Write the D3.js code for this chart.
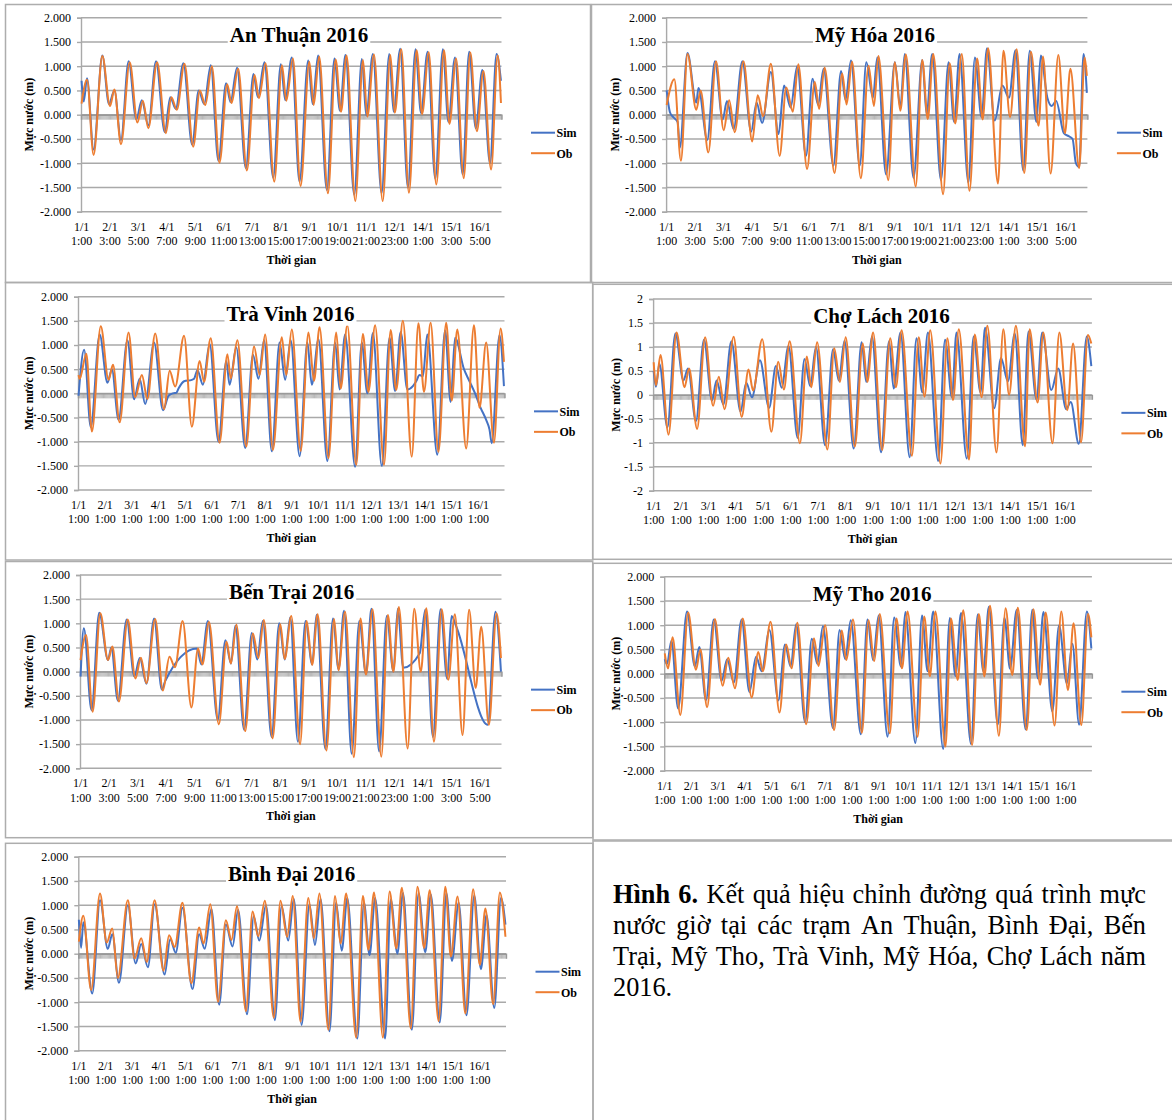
<!DOCTYPE html>
<html><head><meta charset="utf-8">
<script src="https://cdn.jsdelivr.net/npm/d3@7"></script>
<style>body{margin:0;background:#fff}svg{display:block}text{font-family:"Liberation Serif","Times New Roman",serif;fill:#000}</style>
</head><body><svg id="c" width="1172" height="1120"></svg>
<script>
// ---------- DATA (turning points: [hour index, water level m]) ----------
const nHours = 384;
const yTicks = [-2, -1.5, -1, -0.5, 0, 0.5, 1, 1.5, 2];
const labelsA = ["1/1 1:00","2/1 3:00","3/1 5:00","4/1 7:00","5/1 9:00","6/1 11:00","7/1 13:00","8/1 15:00","9/1 17:00","10/1 19:00","11/1 21:00","12/1 23:00","14/1 1:00","15/1 3:00","16/1 5:00"];
const labelsB = ["1/1 1:00","2/1 1:00","3/1 1:00","4/1 1:00","5/1 1:00","6/1 1:00","7/1 1:00","8/1 1:00","9/1 1:00","10/1 1:00","11/1 1:00","12/1 1:00","13/1 1:00","14/1 1:00","15/1 1:00","16/1 1:00"];

const anThuanOb = [[0,0.23],[5,0.72],[11,-0.83],[19,1.21],[26,0.18],[30,0.52],[36,-0.61],[44,1.08],[51,-0.16],[56,0.29],[61,-0.28],[69,1.08],[77,-0.38],[82,0.36],[87,0.1],[94,1.05],[102,-0.66],[108,0.5],[113,0.2],[119,1.0],[126,-0.99],[133,0.63],[137,0.24],[143,0.95],[151,-1.15],[158,0.82],[162,0.34],[168,1.06],[176,-1.38],[183,1.02],[187,0.29],[193,1.16],[200,-1.47],[208,1.09],[212,0.2],[217,1.2],[225,-1.62],[232,1.14],[237,0.06],[242,1.22],[250,-1.78],[257,1.13],[261,-0.04],[267,1.24],[275,-1.78],[282,1.23],[286,0.04],[292,1.35],[299,-1.61],[306,1.33],[311,0.01],[317,1.29],[324,-1.44],[331,1.33],[336,-0.19],[342,1.16],[349,-1.31],[355,1.28],[361,-0.34],[367,0.9],[374,-1.13],[380,1.22],[383,0.24]];
const anThuanSim = [[0,0.7],[2,0.27],[5,0.75],[11,-0.72],[19,1.22],[25,0.22],[30,0.5],[36,-0.52],[43,1.1],[50,-0.1],[55,0.3],[61,-0.22],[68,1.1],[76,-0.36],[81,0.36],[86,0.12],[93,1.06],[101,-0.62],[107,0.5],[112,0.22],[118,1.02],[125,-0.95],[132,0.65],[136,0.26],[142,0.97],[150,-1.1],[157,0.84],[161,0.36],[167,1.08],[175,-1.3],[182,1.04],[186,0.3],[192,1.18],[199,-1.38],[207,1.12],[211,0.22],[216,1.22],[224,-1.55],[231,1.16],[236,0.08],[241,1.23],[249,-1.65],[256,1.15],[260,-0.02],[266,1.25],[274,-1.62],[281,1.25],[285,0.06],[291,1.36],[298,-1.5],[305,1.35],[310,0.03],[316,1.3],[323,-1.32],[330,1.35],[335,-0.15],[341,1.18],[348,-1.23],[354,1.3],[360,-0.28],[366,0.92],[373,-1.0],[379,1.25],[383,0.7]];

const myHoaOb = [[0,0.2],[7,0.73],[13,-0.95],[19,1.25],[27,0.1],[31,0.5],[38,-0.78],[45,1.1],[52,-0.32],[57,0.3],[62,-0.36],[70,1.1],[78,-0.55],[83,0.4],[88,-0.03],[95,1.05],[103,-0.85],[109,0.56],[115,0.06],[120,1.04],[128,-1.12],[135,0.68],[139,0.12],[144,0.97],[153,-1.2],[160,0.85],[164,0.21],[169,1.09],[177,-1.31],[184,1.01],[189,0.18],[193,1.21],[202,-1.35],[208,1.08],[213,0.08],[218,1.24],[227,-1.48],[233,1.13],[238,-0.09],[243,1.25],[252,-1.64],[258,1.06],[263,-0.18],[269,1.25],[276,-1.57],[283,1.16],[288,-0.1],[293,1.37],[302,-1.42],[307,1.32],[313,-0.05],[319,1.35],[326,-1.2],[332,1.3],[339,-0.23],[343,1.2],[350,-1.21],[357,1.23],[363,-0.38],[368,0.95],[376,-1.1],[381,1.18],[383,0.8]];
const myHoaSim = [[0,0.5],[3,0.05],[6,-0.05],[10,-0.15],[12,-0.68],[19,1.27],[27,0.25],[29,0.55],[37,-0.52],[44,1.1],[51,-0.1],[55,0.28],[61,-0.3],[69,1.1],[77,-0.35],[82,0.25],[87,-0.17],[95,0.88],[102,-0.4],[107,0.6],[113,0.15],[119,1.0],[127,-0.85],[133,0.74],[138,0.2],[143,0.95],[152,-1.05],[159,0.9],[163,0.3],[168,1.12],[176,-1.05],[182,1.08],[188,0.35],[192,1.18],[200,-1.23],[208,1.08],[213,0.15],[217,1.25],[225,-1.3],[233,1.13],[237,0.0],[242,1.25],[250,-1.35],[257,1.08],[262,-0.15],[267,1.25],[275,-1.4],[281,1.18],[287,-0.05],[292,1.37],[299,-0.12],[306,0.6],[312,0.35],[318,1.33],[325,-1.15],[331,1.32],[337,-0.15],[341,1.22],[347,0.35],[351,0.18],[355,0.28],[362,-0.38],[367,-0.45],[370,-0.5],[373,-1.0],[376,-1.08],[380,1.25],[383,0.45]];

const traVinhOb = [[0,0.38],[1,0.3],[7,0.82],[12,-0.79],[20,1.39],[27,0.28],[31,0.59],[37,-0.6],[45,1.26],[51,-0.08],[57,0.38],[62,-0.12],[69,1.24],[77,-0.33],[82,0.47],[87,0.14],[95,1.19],[102,-0.69],[109,0.67],[113,0.24],[119,1.14],[127,-1.02],[134,0.81],[137,0.31],[143,1.1],[151,-1.1],[158,0.97],[163,0.38],[168,1.22],[175,-1.17],[183,1.16],[187,0.38],[192,1.32],[200,-1.19],[207,1.26],[212,0.26],[217,1.37],[225,-1.34],[232,1.26],[236,0.1],[242,1.41],[250,-1.48],[256,1.23],[261,0.03],[267,1.41],[275,-1.48],[281,1.31],[286,0.07],[292,1.5],[300,-1.31],[306,1.45],[311,0.03],[317,1.46],[324,-1.21],[331,1.46],[336,-0.15],[341,1.32],[349,-1.14],[356,1.41],[361,-0.3],[367,1.05],[374,-1.02],[380,1.34],[383,0.65]];
const traVinhSim = [[0,-0.05],[5,0.9],[11,-0.7],[19,1.22],[26,0.22],[30,0.5],[36,-0.55],[44,1.1],[50,-0.12],[55,0.3],[60,-0.22],[68,1.05],[76,-0.35],[81,-0.05],[85,0.0],[88,0.01],[90,0.1],[95,0.25],[102,0.28],[104,0.3],[107,0.48],[112,0.18],[118,1.02],[126,-1.0],[133,0.67],[136,0.18],[142,0.95],[150,-1.13],[157,0.8],[162,0.3],[167,1.1],[174,-1.2],[181,1.05],[186,0.28],[191,1.1],[199,-1.3],[206,1.05],[210,0.18],[216,1.12],[224,-1.4],[231,1.05],[235,0.08],[240,1.22],[249,-1.52],[255,1.05],[260,0.0],[265,1.25],[273,-1.5],[280,1.15],[285,0.05],[290,1.27],[296,0.08],[301,0.15],[304,0.25],[307,0.38],[310,0.35],[314,1.22],[323,-1.27],[330,1.3],[335,-0.18],[339,1.15],[347,0.5],[352,0.25],[357,0.0],[362,-0.3],[367,-0.55],[370,-0.75],[372,-1.03],[379,1.2],[383,0.15]];

const choLachOb = [[0,0.68],[2,0.2],[6,0.83],[13,-0.83],[20,1.3],[27,0.16],[31,0.55],[38,-0.71],[45,1.2],[52,-0.23],[57,0.38],[62,-0.3],[70,1.21],[77,-0.46],[83,0.53],[87,0.09],[95,1.16],[103,-0.77],[109,0.69],[114,0.11],[119,1.12],[128,-1.01],[134,0.8],[138,0.16],[143,1.1],[152,-1.14],[158,0.97],[163,0.27],[168,1.2],[176,-1.08],[183,1.07],[187,0.27],[192,1.3],[200,-1.15],[207,1.18],[212,0.16],[217,1.35],[226,-1.27],[232,1.2],[237,-0.04],[242,1.35],[251,-1.43],[257,1.18],[262,-0.11],[267,1.37],[276,-1.35],[281,1.26],[287,-0.05],[292,1.44],[300,-1.2],[306,1.37],[311,0.0],[317,1.44],[325,-1.07],[329,1.37],[336,-0.16],[341,1.3],[349,-1.01],[355,1.3],[362,-0.32],[367,1.07],[374,-0.99],[380,1.25],[383,1.07]];
const choLachSim = [[0,0.5],[2,0.17],[5,0.65],[12,-0.68],[19,1.28],[26,0.3],[30,0.55],[37,-0.55],[44,1.15],[51,-0.12],[55,0.3],[61,-0.2],[68,1.12],[76,-0.35],[81,0.25],[86,-0.05],[93,0.72],[101,-0.27],[107,0.6],[112,0.15],[118,1.02],[126,-0.9],[132,0.75],[137,0.18],[142,1.0],[150,-1.05],[157,0.95],[162,0.3],[167,1.13],[175,-1.12],[182,1.1],[186,0.27],[191,1.22],[199,-1.2],[206,1.12],[210,0.13],[216,1.3],[224,-1.3],[230,1.18],[235,0.05],[240,1.3],[249,-1.38],[255,1.15],[261,-0.05],[265,1.3],[274,-1.33],[280,1.22],[286,0.05],[290,1.4],[298,-0.28],[304,0.77],[310,0.28],[316,1.28],[323,-1.05],[328,1.32],[335,-0.1],[340,1.3],[348,0.1],[354,0.55],[361,-0.3],[365,-0.15],[372,-1.02],[379,1.22],[383,0.6]];

const benTraiOb = [[0,0.24],[5,0.76],[11,-0.83],[18,1.21],[25,0.24],[29,0.52],[35,-0.62],[43,1.08],[50,-0.14],[55,0.29],[60,-0.24],[68,1.09],[75,-0.39],[81,0.31],[86,0.09],[93,1.05],[101,-0.74],[107,0.48],[111,0.15],[117,1.03],[126,-1.09],[133,0.62],[137,0.17],[142,0.97],[150,-1.23],[157,0.79],[162,0.28],[167,1.07],[175,-1.38],[182,0.98],[186,0.26],[192,1.15],[200,-1.5],[206,1.05],[211,0.14],[216,1.19],[224,-1.63],[231,1.09],[235,0.03],[241,1.24],[249,-1.77],[255,1.1],[260,-0.06],[266,1.29],[274,-1.76],[280,1.17],[285,0.0],[290,1.34],[298,-1.59],[304,1.3],[310,0.0],[315,1.31],[322,-1.45],[329,1.29],[335,-0.17],[341,1.19],[348,-1.31],[354,1.28],[360,-0.34],[365,0.93],[372,-1.1],[379,1.21],[383,0.28]];
const benTraiSim = [[0,-0.1],[3,0.9],[10,-0.8],[17,1.22],[25,0.24],[28,0.5],[34,-0.6],[42,1.08],[49,-0.1],[54,0.28],[60,-0.25],[67,1.1],[74,-0.37],[77,-0.2],[106,0.48],[110,0.15],[116,1.05],[125,-1.0],[132,0.65],[137,0.17],[141,0.95],[149,-1.2],[156,0.8],[161,0.25],[166,1.05],[174,-1.35],[181,1.0],[186,0.25],[191,1.12],[198,-1.45],[205,1.05],[211,0.15],[215,1.18],[223,-1.6],[230,1.1],[235,0.05],[240,1.26],[247,-1.7],[254,1.05],[260,-0.05],[265,1.3],[272,-1.65],[279,1.15],[285,0.0],[289,1.3],[294,0.08],[309,0.38],[314,1.28],[321,-1.35],[328,1.29],[334,-0.15],[338,1.15],[342,0.95],[371,-1.1],[378,1.24],[383,0.0]];

const myThoOb = [[0,0.42],[3,0.11],[7,0.75],[14,-0.85],[21,1.26],[28,0.08],[32,0.5],[38,-0.69],[45,1.13],[52,-0.25],[57,0.33],[63,-0.3],[70,1.14],[78,-0.49],[84,0.45],[88,0.05],[95,1.07],[103,-0.8],[109,0.6],[114,0.11],[119,1.05],[127,-1.04],[134,0.73],[138,0.16],[144,1.0],[152,-1.16],[159,0.89],[163,0.28],[169,1.12],[177,-1.22],[183,1.1],[188,0.26],[193,1.23],[202,-1.23],[208,1.14],[213,0.11],[218,1.28],[227,-1.3],[233,1.18],[238,-0.05],[243,1.28],[252,-1.5],[257,1.14],[263,-0.13],[268,1.31],[276,-1.47],[282,1.23],[287,-0.06],[292,1.4],[300,-1.28],[306,1.35],[312,-0.03],[317,1.36],[325,-1.16],[331,1.33],[337,-0.23],[342,1.26],[350,-1.07],[356,1.28],[362,-0.34],[367,1.04],[374,-1.06],[380,1.23],[383,0.75]];
const myThoSim = [[0,0.3],[2,0.2],[6,0.68],[12,-0.72],[20,1.28],[27,0.15],[31,0.55],[37,-0.55],[44,1.12],[51,-0.15],[56,0.3],[62,-0.18],[69,1.12],[76,-0.38],[82,0.35],[87,0.05],[94,0.9],[102,-0.55],[108,0.6],[113,0.15],[118,1.02],[126,-1.0],[132,0.72],[137,0.2],[142,0.98],[151,-1.12],[157,0.9],[162,0.3],[167,1.1],[176,-1.25],[182,1.12],[187,0.28],[192,1.2],[200,-1.3],[206,1.16],[212,0.15],[216,1.27],[225,-1.43],[231,1.2],[236,0.05],[241,1.28],[250,-1.55],[256,1.15],[261,-0.05],[266,1.25],[275,-1.45],[281,1.22],[286,0.05],[291,1.38],[299,-1.05],[305,1.15],[310,0.1],[316,1.32],[324,-1.15],[330,1.32],[335,-0.1],[340,1.27],[348,-0.78],[354,1.0],[361,-0.2],[366,0.62],[372,-1.05],[379,1.28],[383,0.52]];

const binhDaiOb = [[0,0.25],[4,0.78],[11,-0.75],[19,1.24],[25,0.23],[30,0.52],[35,-0.5],[44,1.1],[50,-0.1],[56,0.32],[61,-0.17],[68,1.1],[76,-0.35],[81,0.38],[86,0.14],[93,1.05],[101,-0.61],[108,0.54],[112,0.21],[118,1.02],[125,-0.99],[132,0.69],[137,0.28],[142,0.98],[150,-1.18],[156,0.87],[161,0.36],[167,1.09],[175,-1.32],[181,1.09],[187,0.35],[192,1.19],[199,-1.4],[206,1.15],[211,0.32],[216,1.24],[224,-1.57],[230,1.19],[235,0.21],[240,1.24],[249,-1.73],[255,1.19],[260,0.08],[265,1.26],[273,-1.73],[279,1.28],[285,0.11],[290,1.36],[298,-1.54],[304,1.38],[310,0.12],[315,1.31],[323,-1.39],[329,1.38],[334,-0.06],[340,1.18],[347,-1.23],[354,1.33],[360,-0.23],[365,0.93],[372,-1.04],[378,1.26],[383,0.35]];
const binhDaiSim = [[0,0.7],[2,0.12],[4,0.65],[12,-0.82],[19,1.1],[26,0.1],[30,0.4],[36,-0.6],[44,1.0],[51,-0.2],[56,0.2],[62,-0.28],[68,1.02],[77,-0.43],[82,0.3],[87,0.02],[93,0.95],[102,-0.73],[108,0.4],[113,0.1],[119,0.92],[126,-1.05],[132,0.6],[138,0.15],[143,0.9],[151,-1.25],[157,0.77],[162,0.27],[168,1.0],[176,-1.37],[182,0.98],[188,0.27],[193,1.13],[200,-1.47],[207,1.02],[212,0.18],[217,1.13],[225,-1.6],[231,1.05],[236,0.06],[241,1.15],[250,-1.75],[256,1.05],[261,-0.03],[266,1.15],[275,-1.75],[280,1.12],[286,0.0],[291,1.25],[299,-1.57],[305,1.25],[311,0.03],[316,1.22],[324,-1.42],[330,1.25],[335,-0.15],[341,1.05],[348,-1.27],[355,1.2],[361,-0.32],[366,0.8],[373,-1.12],[379,1.15],[383,0.6]];

const captionLines = [
  [{t:"Hình",b:true},{t:"6.",b:true},"Kết","quả","hiệu","chỉnh","đường","quá","trình","mực"],
  ["nước","giờ","tại","các","trạm","An","Thuận,","Bình","Đại,","Bến"],
  ["Trại,","Mỹ","Tho,","Trà","Vinh,","Mỹ","Hóa,","Chợ","Lách","năm"],
  ["2016."]
];

// ---------- LAYOUT ----------
const fmt3 = d => d.toFixed(3);
const fmtPlain = d => String(d);
const panels = [
  {title:"An Thuận 2016", sim:anThuanSim, ob:anThuanOb, labels:labelsA, step:26, fmt:fmt3, L:81, R:501.5, T:17.7, B:211.7, box:[5.5,4.5,590.5,282.5], tx:299},
  {title:"Mỹ Hóa 2016", sim:myHoaSim, ob:myHoaOb, labels:labelsA, step:26, fmt:fmt3, L:666.1, R:1087.4, T:17.7, B:211.7, box:[591.5,4.5,1185,282.5], tx:875},
  {title:"Trà Vinh 2016", sim:traVinhSim, ob:traVinhOb, labels:labelsB, step:24, fmt:fmt3, L:78, R:504.5, T:296.7, B:490, box:[5.5,282.5,592.7,560], tx:290.5},
  {title:"Chợ Lách 2016", sim:choLachSim, ob:choLachOb, labels:labelsB, step:24, fmt:fmtPlain, L:653.1, R:1091.9, T:299, B:490.7, box:[592.7,284.3,1185,559.3], tx:881.4},
  {title:"Bến Trại 2016", sim:benTraiSim, ob:benTraiOb, labels:labelsA, step:26, fmt:fmt3, L:80, R:501.5, T:575, B:768.3, box:[5.5,561.5,592.7,837.7], tx:291.6},
  {title:"Mỹ Tho 2016", sim:myThoSim, ob:myThoOb, labels:labelsB, step:24, fmt:fmt3, L:664.2, R:1091.9, T:576.7, B:770.7, box:[593,563.3,1185,840], tx:872.1},
  {title:"Bình Đại 2016", sim:binhDaiSim, ob:binhDaiOb, labels:labelsB, step:24, fmt:fmt3, L:78.3, R:506, T:856.7, B:1050.7, box:[5.5,843.3,593,1130], tx:291.6}
];
const simColor = "#4472C4", obColor = "#ED7D31", gridColor = "#A9A9A9", boxColor = "#ADADAD";

const svg = d3.select("#c");

// caption box
svg.append("rect").attr("x",593).attr("y",841).attr("width",600).attr("height",300)
  .attr("fill","none").attr("stroke",boxColor).attr("stroke-width",1.5);

panels.forEach(p => {
  const g = svg.append("g");
  const [bx0,by0,bx1,by1] = p.box;
  g.append("rect").attr("x",bx0).attr("y",by0).attr("width",bx1-bx0).attr("height",by1-by0)
    .attr("fill","none").attr("stroke",boxColor).attr("stroke-width",1.5);

  const x = d3.scaleLinear().domain([-0.5, nHours-0.5]).range([p.L, p.R]);
  const y = d3.scaleLinear().domain([-2, 2]).range([p.B, p.T]);

  // gridlines
  g.selectAll("line.grid").data(yTicks).join("line").attr("class","grid")
    .attr("x1",p.L).attr("x2",p.R).attr("y1",d=>y(d)).attr("y2",d=>y(d))
    .attr("stroke",gridColor).attr("stroke-width",1.4);

  // y axis
  const ya = d3.axisLeft(y).tickValues(yTicks).tickSize(4).tickPadding(6).tickFormat(p.fmt);
  const yg = g.append("g").attr("transform",`translate(${p.L},0)`).call(ya);
  yg.select(".domain").attr("stroke",gridColor).attr("stroke-width",1.4);
  yg.selectAll(".tick line").attr("stroke",gridColor).attr("stroke-width",1.4);
  yg.selectAll(".tick text").attr("font-family","Liberation Serif").attr("font-size",12).attr("fill","#000");

  // x axis at zero with category tick marks
  const xa = d3.axisBottom(x).tickValues(d3.range(0, nHours)).tickSize(5).tickFormat("");
  const xg = g.append("g").attr("transform",`translate(0,${y(0)})`).call(xa);
  xg.select(".domain").attr("stroke","#999").attr("stroke-width",1.4);
  xg.selectAll(".tick line").attr("stroke","#9a9a9a").attr("stroke-width",0.7);

  // category labels
  const lab = g.append("g");
  p.labels.forEach((s,i) => {
    const parts = s.split(" ");
    const t = lab.append("text").attr("text-anchor","middle").attr("font-size",12)
      .attr("x", x(i*p.step));
    t.append("tspan").attr("x", x(i*p.step)).attr("y", p.B+19).text(parts[0]);
    t.append("tspan").attr("x", x(i*p.step)).attr("y", p.B+33.3).text(parts[1]);
  });

  // series
  const line = d3.line().x(d=>x(d[0])).y(d=>y(d[1])).curve(d3.curveMonotoneX);
  g.append("path").datum(p.sim).attr("d",line).attr("fill","none").attr("stroke",simColor).attr("stroke-width",2);
  g.append("path").datum(p.ob).attr("d",line).attr("fill","none").attr("stroke",obColor).attr("stroke-width",2);

  // title with white background
  const tg = g.append("g");
  const tt = tg.append("text").attr("x",p.tx).attr("y",p.T+24).attr("text-anchor","middle")
    .attr("font-size",21).attr("font-weight","bold").text(p.title);
  const bb = tt.node().getBBox();
  tg.insert("rect","text").attr("x",bb.x-2).attr("y",bb.y+1).attr("width",bb.width+4).attr("height",bb.height-1).attr("fill","#fff");

  // axis titles
  const cy = (p.T+p.B)/2;
  g.append("text").attr("transform",`translate(${bx0+23},${cy}) rotate(-90)`).attr("text-anchor","middle")
    .attr("dy","0.35em").attr("font-size",12).attr("font-weight","bold").text("Mực nước (m)");
  g.append("text").attr("x",(p.L+p.R)/2).attr("y",p.B+52).attr("text-anchor","middle")
    .attr("font-size",12).attr("font-weight","bold").text("Thời gian");

  // legend
  [["Sim",simColor,18],["Ob",obColor,38.5]].forEach(([name,col,dy]) => {
    g.append("line").attr("x1",p.R+29.5).attr("x2",p.R+53.5).attr("y1",cy+dy).attr("y2",cy+dy)
      .attr("stroke",col).attr("stroke-width",2);
    g.append("text").attr("x",p.R+55).attr("y",cy+dy+4.3).attr("font-size",12).attr("font-weight","bold").text(name);
  });
});

// caption, justified
const cap = svg.append("g");
const cx0 = 613, cx1 = 1146, base0 = 903.3, lh = 30.9;
captionLines.forEach((words, li) => {
  const ws = words.map(w => typeof w === "string" ? {t:w,b:false} : w);
  const nodes = ws.map(w => cap.append("text").attr("y", base0 + li*lh).attr("font-size",26.3)
    .attr("font-weight", w.b ? "bold" : "normal").text(w.t));
  const widths = nodes.map(n => n.node().getComputedTextLength());
  const total = d3.sum(widths);
  const last = li === captionLines.length-1;
  const gap = last || ws.length < 2 ? 6.5 : (cx1 - cx0 - total)/(ws.length-1);
  let xx = cx0;
  nodes.forEach((n,i) => { n.attr("x", xx); xx += widths[i] + gap; });
});
</script></body></html>
